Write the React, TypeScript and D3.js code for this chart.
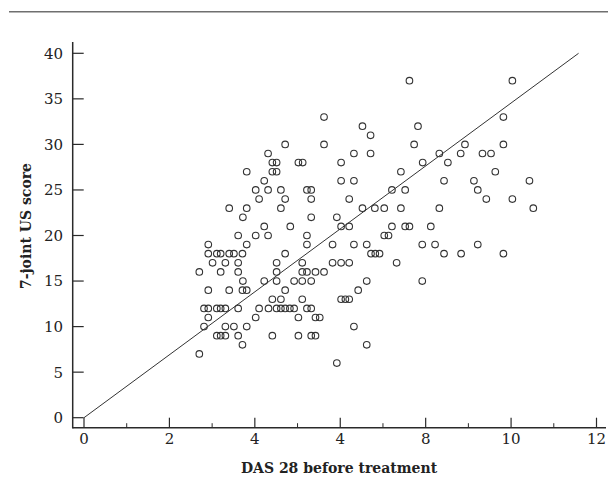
import React from "react";
import * as d3 from "d3";

// Points grouped by their (integer) 7-joint US score; values are DAS 28 before treatment
const scoreLevels: number[] = [37, 33, 32, 31, 30, 29, 28, 27, 26, 25, 24, 23, 22, 21, 20, 19, 18, 17, 16, 15, 14, 13, 12, 11, 10, 9, 8, 7, 6];
const dasByLevel: number[][] = [
  [7.62, 10.03],
  [5.62, 9.82],
  [6.52, 7.82],
  [6.71],
  [4.71, 5.62, 7.73, 8.92, 9.82],
  [4.31, 6.32, 6.71, 8.32, 8.82, 9.33, 9.53],
  [4.41, 4.51, 5.02, 5.12, 6.02, 7.93, 8.52],
  [3.81, 4.41, 4.51, 7.42, 9.63],
  [4.22, 6.02, 6.32, 8.43, 9.13, 10.43],
  [4.02, 4.31, 4.61, 5.22, 5.32, 7.21, 7.52, 9.22],
  [4.1, 4.71, 5.32, 6.21, 9.42, 10.03],
  [3.4, 3.81, 4.61, 6.52, 6.81, 7.03, 7.42, 8.32, 10.52],
  [3.72, 5.32, 5.92],
  [4.22, 4.83, 6.02, 6.21, 7.21, 7.52, 7.62, 8.12],
  [3.61, 4.02, 4.31, 5.22, 7.03, 7.13],
  [2.91, 3.81, 5.22, 5.82, 6.32, 6.62, 7.92, 8.22, 9.22],
  [2.91, 3.11, 3.2, 3.4, 3.51, 3.71, 4.71, 6.72, 6.82, 6.92, 8.43, 8.83, 9.82],
  [3.01, 3.31, 3.61, 4.51, 5.11, 5.82, 6.02, 6.21, 7.32],
  [2.7, 3.2, 3.61, 4.51, 5.11, 5.22, 5.42, 5.62],
  [3.72, 4.22, 4.51, 4.92, 5.11, 5.32, 6.62, 7.92],
  [2.91, 3.4, 3.71, 3.81, 4.71, 6.42],
  [4.41, 4.61, 5.11, 6.02, 6.12, 6.21],
  [2.81, 2.91, 3.11, 3.2, 3.31, 3.61, 4.1, 4.32, 4.51, 4.61, 4.71, 4.82, 4.92, 5.22, 5.32],
  [2.91, 4.02, 5.02, 5.42, 5.52],
  [2.81, 3.31, 3.51, 3.81, 6.32],
  [3.11, 3.2, 3.31, 3.61, 4.41, 5.02, 5.32, 5.42],
  [3.71, 6.62],
  [2.7],
  [5.92],
];

const xTickValues: number[] = [0, 2, 4, 6, 8, 10, 12];
const xTickLabels: string[] = ["0", "2", "4", "4", "8", "10", "12"];
const xMinorTicks: number[] = [1, 3, 5, 7, 9, 11];
const yTickValues: number[] = [0, 5, 10, 15, 20, 25, 30, 35, 40];
const fitLine: [number, number][] = [
  [0, 0],
  [11.58, 40],
];

const xLabel = "DAS 28 before treatment";
const yLabel = "7-joint US score";

export default function App() {
  const W = 608;
  const H = 478;
  const x = d3.scaleLinear().domain([0, 12]).range([84, 596.5]);
  const y = d3.scaleLinear().domain([0, 40]).range([417.7, 53.3]);
  const axisX0 = 72.7;
  const axisY0 = 427.7;
  const font = "'DejaVu Serif', serif";
  const ink = "#2a2a2a";

  const points: { dx: number; sc: number }[] = [];
  scoreLevels.forEach((s, i) => dasByLevel[i].forEach((v) => points.push({ dx: v, sc: s })));

  const line = d3
    .line<[number, number]>()
    .x((d) => x(d[0]))
    .y((d) => y(d[1]));

  return (
    <div style={{ position: "absolute", left: 0, top: 0 }}>
      <svg width={W} height={H} style={{ display: "block", background: "#fff" }}>
        <line x1={9} x2={608} y1={11.7} y2={11.7} stroke="#6f6f6f" strokeWidth={1.4} />
        {/* axes */}
        <line x1={axisX0} x2={axisX0} y1={42} y2={axisY0 + 0.7} stroke={ink} strokeWidth={1.5} />
        <line x1={axisX0} x2={606} y1={axisY0} y2={axisY0} stroke={ink} strokeWidth={1.5} />
        {yTickValues.map((t) => (
          <g key={"yt" + t}>
            <line x1={axisX0} x2={axisX0 + 11} y1={y(t)} y2={y(t)} stroke={ink} strokeWidth={1.2} />
            <text x={63} y={y(t)} dy="0.36em" textAnchor="end" fontFamily={font} fontSize={15} fill="#222">
              {t}
            </text>
          </g>
        ))}
        {xTickValues.map((t, i) => (
          <g key={"xt" + t}>
            <line x1={x(t)} x2={x(t)} y1={axisY0} y2={axisY0 - 10} stroke={ink} strokeWidth={1.2} />
            <text x={x(t)} y={443.5} textAnchor="middle" fontFamily={font} fontSize={15} fill="#222">
              {xTickLabels[i]}
            </text>
          </g>
        ))}
        {xMinorTicks.map((t) => (
          <line key={"xm" + t} x1={x(t)} x2={x(t)} y1={axisY0} y2={axisY0 - 4.5} stroke={ink} strokeWidth={1} />
        ))}
        {/* regression line */}
        <path d={line(fitLine) || ""} fill="none" stroke="#333" strokeWidth={1} />
        {/* points */}
        {points.map((p, i) => (
          <circle key={i} cx={x(p.dx)} cy={y(p.sc)} r={3.3} fill="none" stroke="#333" strokeWidth={1.1} />
        ))}
        {/* titles */}
        <text x={339} y={473} textAnchor="middle" fontFamily={font} fontSize={14} fontWeight="bold" fill="#222">
          {xLabel}
        </text>
        <text
          transform={`translate(31,226) rotate(-90)`}
          textAnchor="middle"
          fontFamily={font}
          fontSize={14}
          fontWeight="bold"
          fill="#222"
        >
          {yLabel}
        </text>
      </svg>
    </div>
  );
}
